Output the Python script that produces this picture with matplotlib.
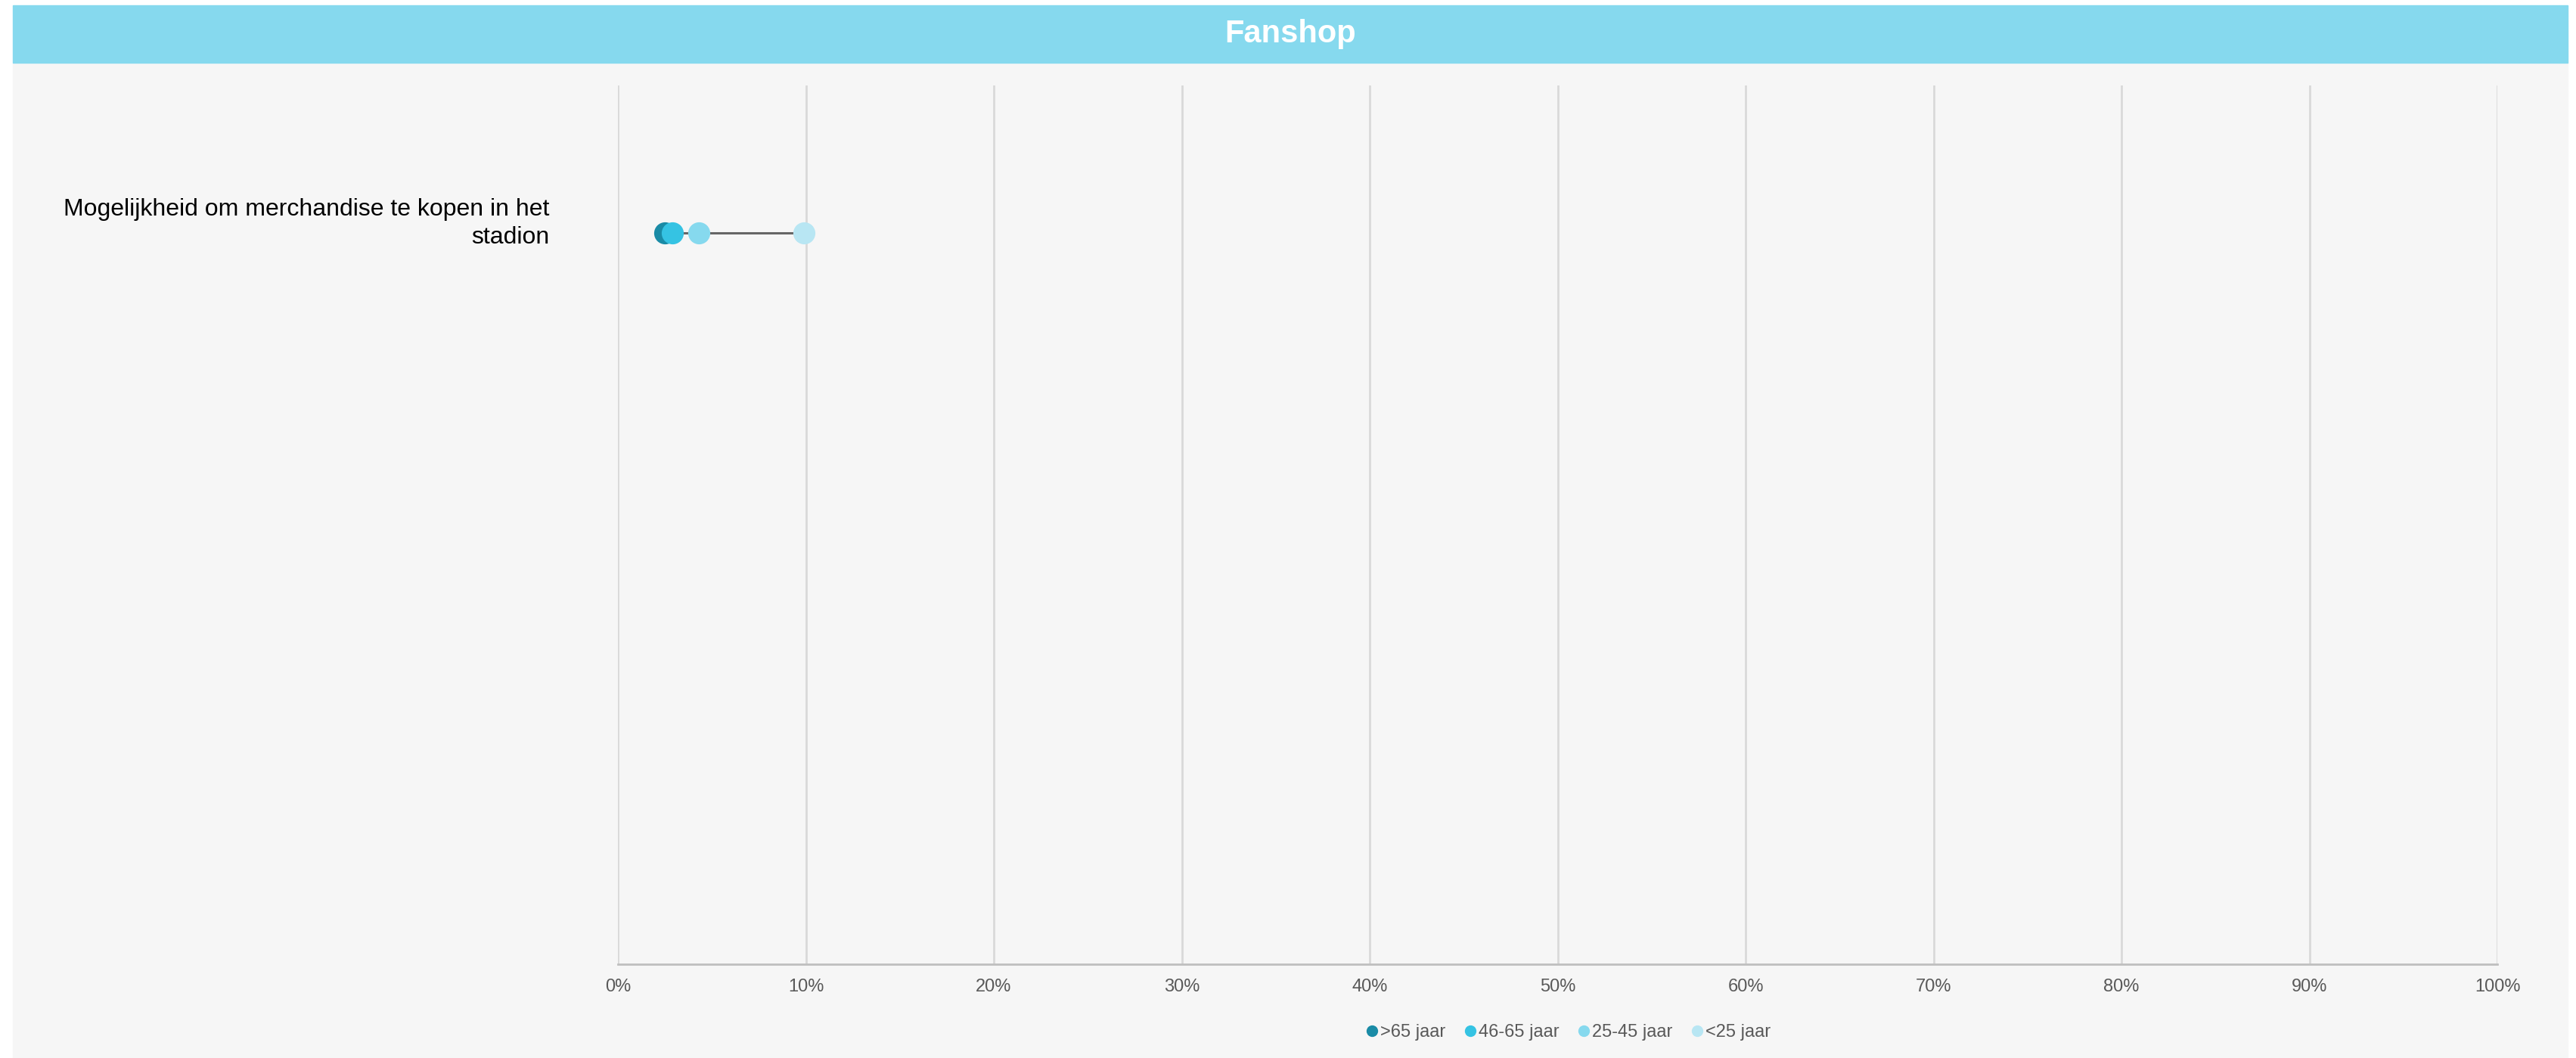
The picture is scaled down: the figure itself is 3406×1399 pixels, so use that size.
import matplotlib.pyplot as plt
from matplotlib.patches import Rectangle
from matplotlib.lines import Line2D
from matplotlib.transforms import ScaledTranslation

plt.rcParams['font.family'] = ['Liberation Sans', 'DejaVu Sans']

# data
categories = ['Mogelijkheid om merchandise te kopen in het\nstadion']
groups = ['>65 jaar', '46-65 jaar', '25-45 jaar', '<25 jaar']
colors = ['#1A8BA6', '#35C3E3', '#86D9EE', '#B8E6F3']
values = [[2.5], [2.9], [4.3], [9.9]]   # percent, per group per category
ticks = list(range(0, 101, 10))
tick_labels = [str(t) + '%' for t in ticks]

W, H = 3406, 1399
fig = plt.figure(figsize=(W / 100, H / 100), dpi=100, facecolor='white')

# grey panel + title bar (behind the axes)
fig.patches.append(Rectangle((17 / W, 0), (3395 - 17) / W, 1 - 83 / H,
                             transform=fig.transFigure, color='#F6F6F6', zorder=-10))
fig.patches.append(Rectangle((17 / W, 1 - 83 / H), (3395 - 17) / W, 76 / H,
                             transform=fig.transFigure, color='#86D9EE', zorder=-10))
fig.text(0.5 * (17 + 3395) / W, 1 - 45 / H, 'Fanshop', color='white', fontsize=30,
         fontweight='bold', ha='center', va='center')

ax = fig.add_axes([817 / W, 1 - 1275 / H, (3302 - 817) / W, (1275 - 113) / H])
ax.set_facecolor('none')

for i, cat in enumerate(categories):
    vals = [v[i] for v in values]
    ax.plot([min(vals), max(vals)], [i, i], color='#666666', lw=2.2, zorder=2)
for g, c, v in zip(groups, colors, values):
    ax.plot(v, range(len(categories)), 'o', color=c, markersize=20, zorder=3, label=g)

ax.set_xlim(0, 100)
ax.set_ylim(len(categories) - 1 + 4.95, -1)

ax.set_xticks(ticks)
ax.set_xticklabels(tick_labels, fontsize=17, color='#595959')
ax.tick_params(axis='x', length=0, pad=14)
ax.set_yticks(range(len(categories)))
ax.set_yticklabels(categories, fontsize=23, color='black', ha='right', linespacing=1.3)
ax.tick_params(axis='y', length=0, pad=65)
# label block sits a bit above the dots, like the original
for lab in ax.get_yticklabels():
    lab.set_transform(lab.get_transform() + ScaledTranslation(0, 0.2, fig.dpi_scale_trans))
ax.grid(axis='x', color='#D9D9D9', lw=2)
ax.set_axisbelow(True)
for s in ['top', 'right', 'left']:
    ax.spines[s].set_visible(False)
ax.spines['bottom'].set_color('#BFBFBF')
ax.spines['bottom'].set_linewidth(2)

handles = [Line2D([], [], marker='o', ls='', color=c, markersize=10) for c in colors]
fig.legend(handles, groups, loc='center', bbox_to_anchor=(2073 / W, 1 - 1365 / H),
           ncol=4, frameon=False, fontsize=17, labelcolor='#595959',
           handletextpad=0.05, columnspacing=1.0, handlelength=0.8)

fig.savefig('out.png', dpi=100, facecolor='white')
